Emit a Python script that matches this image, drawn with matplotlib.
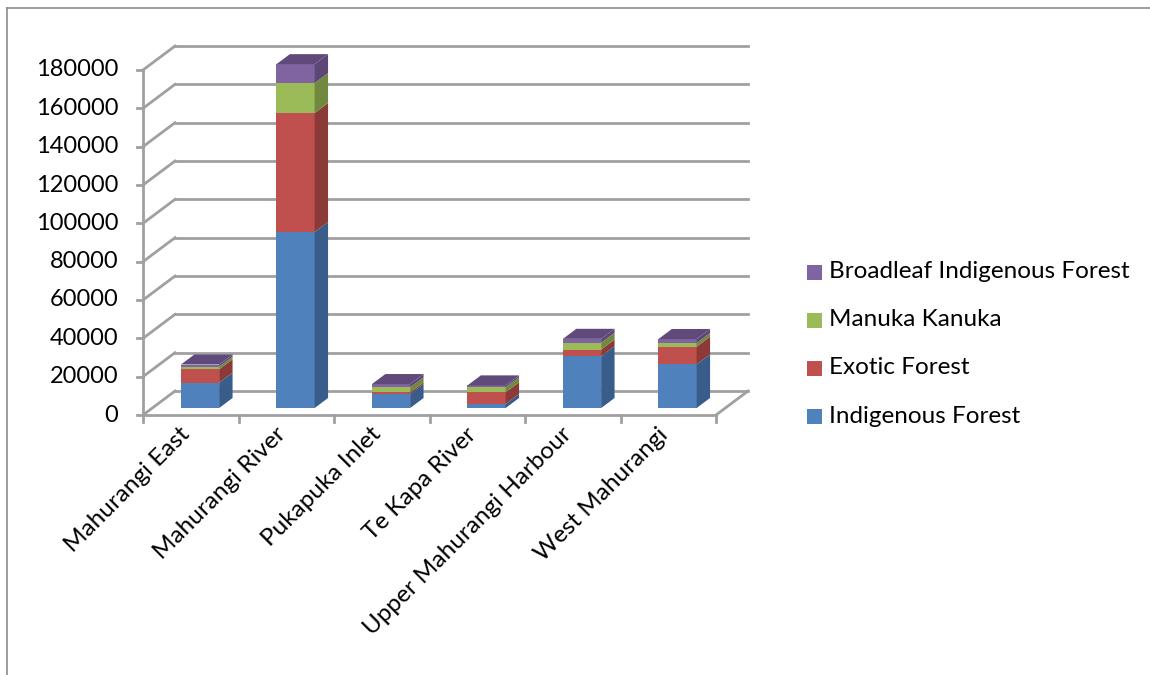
import matplotlib
matplotlib.use("Agg")
import matplotlib.pyplot as plt
from matplotlib.patches import Polygon, Rectangle
from matplotlib.lines import Line2D

plt.rcParams['font.family'] = ['Lato', 'DejaVu Sans']

# land cover area per catchment
catchments = ["Mahurangi East", "Mahurangi River", "Pukapuka Inlet",
              "Te Kapa River", "Upper Mahurangi Harbour", "West Mahurangi"]
indigenous_forest = [13200, 91800, 7300, 2100, 27000, 22800]
exotic_forest = [7000, 62100, 900, 6100, 3500, 9200]
manuka_kanuka = [1400, 15600, 2600, 2600, 3500, 1900]
broadleaf_indigenous = [1100, 9900, 1700, 1000, 2100, 2100]
series_names = ["Indigenous Forest", "Exotic Forest", "Manuka Kanuka",
                "Broadleaf Indigenous Forest"]
y_ticks = list(range(0, 180001, 20000))

series = [indigenous_forest, exotic_forest, manuka_kanuka, broadleaf_indigenous]
front_cols = ['#4f81bd', '#c0504d', '#9bbb59', '#8064a2']
side_cols = ['#385d8a', '#8c3a38', '#71893f', '#5c4776']
top_col = '#604a7b'
grid_col = '#a0a0a0'

# fake 3d: depth z in [0, 1] shifts points up and to the right
DX = 0.335
DY = 12500
Z0, Z1 = 0.29, 0.71
BAR_W = 0.4


def proj(x, y, z):
    return x + z * DX, y + z * DY


def seg(ax, p, q, **kw):
    ax.add_line(Line2D([p[0], q[0]], [p[1], q[1]], clip_on=False, **kw))


fig = plt.figure(figsize=(11.5, 6.75), dpi=100)
ax = fig.add_axes([143 / 1150, 1 - 415 / 675, 573 / 1150, 345 / 675])
ax.set_xlim(-0.5, len(catchments) - 0.5)
ax.set_ylim(0, y_ticks[-1])
ax.axis('off')

x0, x1 = -0.5, len(catchments) - 0.5

# walls and floor
for v in y_ticks:
    seg(ax, proj(x0, v, 1), proj(x1, v, 1), color=grid_col, lw=2.0, zorder=1)
    seg(ax, proj(x0, v, 0), proj(x0, v, 1), color=grid_col, lw=2.0, zorder=1)
    seg(ax, (x0 - 0.065, v), (x0, v), color=grid_col, lw=2.0, zorder=3)
    ax.text(x0 - 0.26, v, str(v), ha='right', va='center', fontsize=17, color='black')
seg(ax, proj(x1, 0, 0), proj(x1, 0, 1), color=grid_col, lw=2.0, zorder=1)
seg(ax, proj(x0, 0, 0), proj(x1, 0, 0), color=grid_col, lw=2.0, zorder=3)
seg(ax, proj(x0, 0, 0), proj(x0, y_ticks[-1], 0), color=grid_col, lw=2.0, zorder=3)
for k in range(len(catchments) + 1):
    seg(ax, (x0 + k, 0), (x0 + k, -3800), color=grid_col, lw=2.0, zorder=3)

# stacked bars
for i, name in enumerate(catchments):
    xc, _ = proj(i, 0, Z0)
    left, right = i - BAR_W / 2, i + BAR_W / 2
    bottom = 0
    for vals, fc, sc in zip(series, front_cols, side_cols):
        v = vals[i]
        ax.bar(xc, v, bottom=bottom + Z0 * DY, width=BAR_W, color=fc,
               linewidth=0, zorder=4, clip_on=False)
        side = [proj(right, bottom, Z0), proj(right, bottom, Z1),
                proj(right, bottom + v, Z1), proj(right, bottom + v, Z0)]
        ax.add_patch(Polygon(side, closed=True, facecolor=sc, lw=0,
                             zorder=4, clip_on=False))
        bottom += v
    top = [proj(left, bottom, Z0), proj(right, bottom, Z0),
           proj(right, bottom, Z1), proj(left, bottom, Z1)]
    ax.add_patch(Polygon(top, closed=True, facecolor=top_col, lw=0,
                         zorder=4, clip_on=False))
    ax.text(i - 0.12, -4500, name, rotation=45, rotation_mode='anchor',
            ha='right', va='top', fontsize=17.5, color='black')

# legend, top entry is the top of the stack
for k, (name, fc) in enumerate(zip(series_names[::-1], front_cols[::-1])):
    yc = 1 - (272 + 48 * k) / 675
    fig.add_artist(Rectangle((807 / 1150, yc - 7.5 / 675), 15 / 1150, 15 / 675,
                             facecolor=fc, lw=0, transform=fig.transFigure))
    fig.text(829 / 1150, yc, name, ha='left', va='center', fontsize=17.5, color='black')

# chart area frame
fig.add_artist(Line2D([7 / 1150, 1.0], [1 - 8 / 675] * 2, transform=fig.transFigure,
                      color='#8c8c8c', lw=1.2))
fig.add_artist(Line2D([7 / 1150] * 2, [0.0, 1 - 8 / 675], transform=fig.transFigure,
                      color='#8c8c8c', lw=1.2))

fig.savefig('out.png', dpi=100)
